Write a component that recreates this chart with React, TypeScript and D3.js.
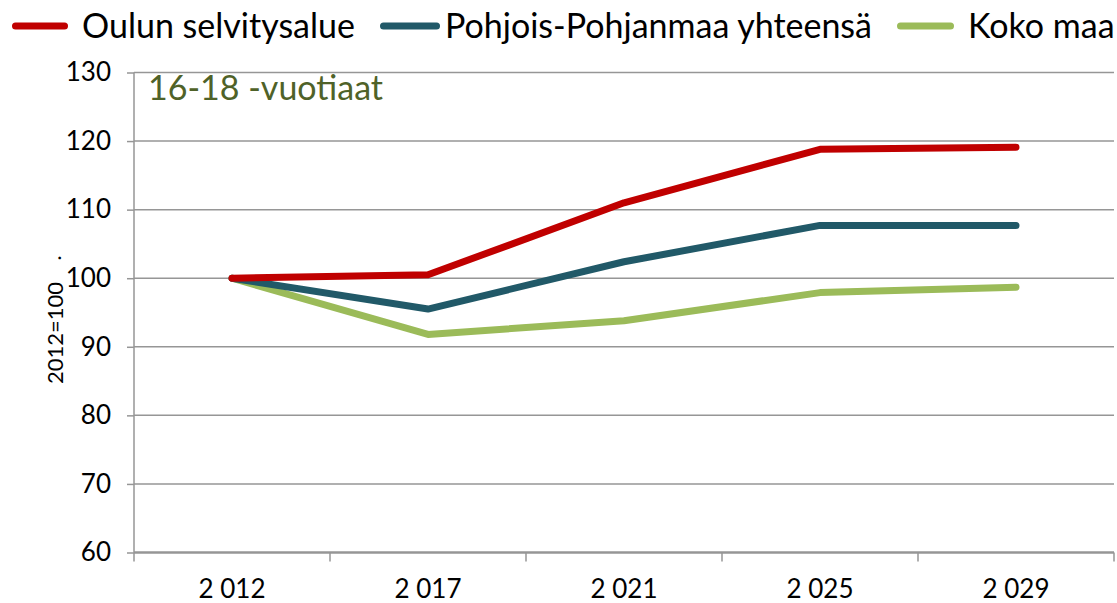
import React, { useEffect, useRef } from "react";
import * as d3 from "d3";

const years = ["2 012", "2 017", "2 021", "2 025", "2 029"];
const oulu = [100, 100.5, 111.0, 118.8, 119.1];
const pohjois = [100, 95.5, 102.4, 107.7, 107.7];
const koko = [100, 91.8, 93.8, 97.9, 98.7];
const seriesNames = ["Oulun selvitysalue", "Pohjois-Pohjanmaa yhteensä", "Koko maa"];
const seriesColors = ["#C00000", "#215968", "#9BBB59"];
const yTicks = [60, 70, 80, 90, 100, 110, 120, 130];
const title = "16-18 -vuotiaat";
const yLabel = "2012=100";

const W = 1117, H = 603;
const FONT = "Lato, 'Open Sans', sans-serif";

export default function App() {
  const ref = useRef<SVGSVGElement>(null);
  useEffect(() => {
    const svg = d3.select(ref.current);
    svg.selectAll("*").remove();
    const left = 134, right = 1114, top = 72.5, bottom = 552.5;
    const x = d3.scaleBand().domain(years).range([left, right]);
    const y = d3.scaleLinear().domain([60, 130]).range([bottom, top]);
    const grid = "#969696";

    // gridlines
    svg.append("g").selectAll("line").data(yTicks.filter(t => t !== 60)).join("line")
      .attr("x1", left).attr("x2", right)
      .attr("y1", d => y(d)).attr("y2", d => y(d))
      .attr("stroke", grid).attr("stroke-width", 1.5);

    // y axis
    const yAxis = d3.axisLeft(y).tickValues(yTicks).tickSize(7).tickPadding(16);
    const gy = svg.append("g").attr("transform", `translate(${left},0)`).call(yAxis);
    gy.select(".domain").attr("stroke", grid).attr("stroke-width", 1.5).attr("d", `M0,${top}V${bottom}`);
    gy.selectAll(".tick line").attr("stroke", grid).attr("stroke-width", 1.5);
    gy.selectAll(".tick text").attr("font-family", FONT).attr("font-size", 26).attr("fill", "#000");

    // x axis
    const gx = svg.append("g").attr("transform", `translate(0,${bottom})`);
    gx.append("line").attr("x1", left).attr("x2", right).attr("stroke", grid).attr("stroke-width", 2.5);
    const bounds = [left, ...years.map(c => (x(c) as number) + x.bandwidth())];
    gx.selectAll("line.tk").data(bounds).join("line").attr("class", "tk")
      .attr("x1", d => d).attr("x2", d => d).attr("y1", 0).attr("y2", 9)
      .attr("stroke", grid).attr("stroke-width", 1.5);
    gx.selectAll("text").data(years).join("text")
      .attr("x", d => (x(d) as number) + x.bandwidth() / 2).attr("y", 45)
      .attr("text-anchor", "middle").attr("font-family", FONT).attr("font-size", 26)
      .attr("fill", "#000").text(d => d);

    // lines
    const all = [oulu, pohjois, koko];
    const line = d3.line<number>()
      .x((_, i) => (x(years[i]) as number) + x.bandwidth() / 2)
      .y(d => y(d));
    all.slice().reverse().forEach((s, ri) => {
      const i = all.length - 1 - ri;
      svg.append("path").attr("d", line(s)).attr("fill", "none")
        .attr("stroke", seriesColors[i]).attr("stroke-width", 7)
        .attr("stroke-linecap", "round").attr("stroke-linejoin", "round");
    });

    // title
    svg.append("text").attr("x", 148).attr("y", 100).attr("font-family", FONT)
      .attr("font-size", 34).attr("fill", "#4F6228").text(title);

    // y label
    svg.append("text").attr("transform", `translate(63,333) rotate(-90)`)
      .attr("text-anchor", "middle").attr("font-family", FONT).attr("font-size", 22)
      .attr("fill", "#000").text(yLabel);
    svg.append("text").attr("transform", `translate(61,258) rotate(-90)`)
      .attr("text-anchor", "middle").attr("font-family", FONT).attr("font-size", 22)
      .attr("fill", "#000").text(".");

    // legend
    const legLine = [[12, 68], [380, 440], [897, 954]];
    const legText = [82, 445, 968];
    const lg = svg.append("g");
    seriesNames.forEach((n, i) => {
      lg.append("line").attr("x1", legLine[i][0] + 3.5).attr("x2", legLine[i][1] - 3.5)
        .attr("y1", 26).attr("y2", 26)
        .attr("stroke", seriesColors[i]).attr("stroke-width", 7).attr("stroke-linecap", "round");
      lg.append("text").attr("x", legText[i]).attr("y", 38)
        .attr("font-family", FONT).attr("font-size", 34).attr("fill", "#000").text(n);
    });
  }, []);
  return (
    <svg ref={ref} width={W} height={H}
      style={{ position: "absolute", left: 0, top: 0, background: "#fff" }} />
  );
}
